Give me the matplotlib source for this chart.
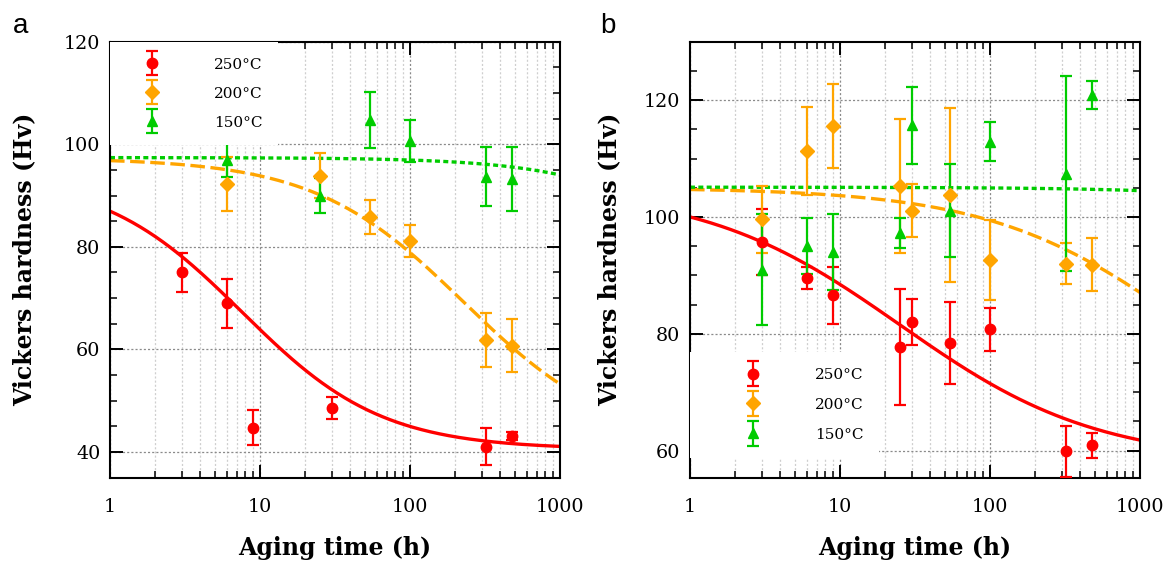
import numpy as np
import matplotlib.pyplot as plt
from matplotlib.ticker import LogLocator, MultipleLocator, NullFormatter
from matplotlib.legend_handler import HandlerErrorbar
from matplotlib.container import ErrorbarContainer

plt.rcParams['font.family'] = 'DejaVu Serif'
plt.rcParams['lines.scale_dashes'] = False

labels = ['250°C', '200°C', '150°C']
colors = ['#ff0000', '#ffa500', '#00cc00']
markers = ['o', 'D', '^']
msizes = [7.5, 7.5, 7.5]
fit_styles = ['-', (0, (10.5, 4)), (0, (3.6, 2.4))]

# ---- panel a: measured hardness (Hv) vs aging time (h)
a_t_250 = [3, 6, 9, 30, 320, 480]
a_hv_250 = [75.0, 69.0, 44.7, 48.6, 41.0, 43.1]
a_err_250 = [3.8, 4.8, 3.4, 2.1, 3.6, 0.7]

a_t_200 = [6, 25, 54, 100, 320, 480]
a_hv_200 = [92.2, 93.9, 85.8, 81.1, 61.8, 60.7]
a_err_200 = [5.3, 4.3, 3.35, 3.15, 5.25, 5.2]

a_t_150 = [6, 25, 54, 100, 320, 480]
a_hv_150 = [97.0, 90.0, 104.8, 100.6, 93.7, 93.2]
a_err_150 = [3.4, 3.5, 5.45, 4.1, 5.7, 6.3]

# ---- panel b
b_t_250 = [3, 6, 9, 25, 30, 54, 100, 320, 480]
b_hv_250 = [95.7, 89.5, 86.6, 77.7, 82.0, 78.4, 80.8, 59.9, 60.9]
b_err_250 = [5.6, 1.85, 4.9, 9.9, 3.9, 7.05, 3.7, 4.4, 2.2]

b_t_200 = [3, 6, 9, 25, 30, 54, 100, 320, 480]
b_hv_200 = [99.6, 111.3, 115.6, 105.3, 101.1, 103.8, 92.6, 92.0, 91.8]
b_err_200 = [5.7, 7.55, 7.15, 11.55, 4.55, 14.9, 6.8, 3.5, 4.55]

b_t_150 = [3, 6, 9, 25, 30, 54, 100, 320, 480]
b_hv_150 = [91.0, 95.0, 94.0, 97.3, 115.7, 101.1, 112.9, 107.4, 120.9]
b_err_150 = [9.55, 4.85, 6.55, 2.55, 6.6, 8.0, 3.3, 16.65, 2.45]

# fitted curves: Hv = H_inf + (H0 - H_inf) / (1 + (t/tau)^n)
# (H0, H_inf, tau, n)
a_fit = [(94.0, 40.5, 7.6, 0.93), (97.3, 41.0, 229.0, 0.87), (97.4, 41.0, 23600.0, 0.87)]
b_fit = [(105.0, 58.0, 25.2, 0.66), (105.0, 58.0, 2080.0, 0.66), (105.1, 58.0, 7.3e5, 0.66)]


def hardness_fit(t, h0, h_inf, tau, n):
    return h_inf + (h0 - h_inf) / (1 + (t / tau) ** n)


fig = plt.figure(figsize=(11.71, 5.67), dpi=100)
ax_a = fig.add_axes([110 / 1171, 89.5 / 567, 450 / 1171, 435.8 / 567])
ax_b = fig.add_axes([690 / 1171, 89.5 / 567, 450 / 1171, 435.8 / 567])

panels = [
    (ax_a, [(a_t_250, a_hv_250, a_err_250), (a_t_200, a_hv_200, a_err_200), (a_t_150, a_hv_150, a_err_150)],
     a_fit, (35, 120), [40, 60, 80, 100, 120], (0, 1), 3.37, 2.38, 0.98, 20),
    (ax_b, [(b_t_250, b_hv_250, b_err_250), (b_t_200, b_hv_200, b_err_200), (b_t_150, b_hv_150, b_err_150)],
     b_fit, (55.4, 130), [60, 80, 100, 120], (0, 0.288), 6.12, 1.01, 1.04, 16),
]

t_fit = np.logspace(0, 3, 300)

for ax, series, fits, ylim, yticks, lanchor, hlen, htpad, lspace, ylpad in panels:
    ax.set_xscale('log')
    for (h0, hinf, tau, n), c, ls in zip(fits, colors, fit_styles):
        ax.plot(t_fit, hardness_fit(t_fit, h0, hinf, tau, n), color=c, lw=2.4, ls=ls, zorder=2)
    handles = []
    for (t, hv, err), c, m, ms in zip(series, colors, markers, msizes):
        h = ax.errorbar(t, hv, yerr=err, fmt=m, color=c, ms=ms, elinewidth=1.6,
                        capsize=4, capthick=1.6, zorder=3)
        handles.append(h)

    ax.set_xlim(1, 1000)
    ax.set_ylim(*ylim)
    ax.set_xticks([1, 10, 100, 1000], ['1', '10', '100', '1000'])
    ax.xaxis.set_minor_locator(LogLocator(base=10, subs=np.arange(2, 10)))
    ax.xaxis.set_minor_formatter(NullFormatter())
    ax.set_yticks(yticks)
    ax.yaxis.set_minor_locator(MultipleLocator(5))

    ax.grid(which='major', axis='both', ls=(0, (1.5, 1.5)), color='#8a8a8a', lw=0.9)
    ax.grid(which='minor', axis='x', ls=(0, (1.5, 1.5)), color='#cfcfcf', lw=0.9)
    ax.set_axisbelow(True)

    ax.tick_params(which='both', direction='in', top=True, right=True)
    ax.tick_params(which='major', length=9.5, width=1.4, labelsize=13.8)
    ax.tick_params(which='minor', length=5, width=1.1)
    ax.tick_params(axis='x', which='major', pad=15)
    ax.tick_params(axis='y', which='major', pad=7)
    for sp in ax.spines.values():
        sp.set_linewidth(1.5)

    ax.set_xlabel('Aging time (h)', fontsize=17, fontweight='bold', labelpad=14)
    ax.set_ylabel('Vickers hardness (Hv)', fontsize=17, fontweight='bold', labelpad=ylpad)

    ax.legend(handles, labels, loc='upper left', bbox_to_anchor=lanchor, borderaxespad=0,
              fontsize=11, frameon=True, fancybox=False, framealpha=1,
              facecolor='white', edgecolor='none', borderpad=1.04,
              handlelength=hlen, handletextpad=htpad, labelspacing=lspace, numpoints=1,
              handler_map={ErrorbarContainer: HandlerErrorbar(yerr_size=0.8)})

fig.text(13 / 1171, 1 - 33 / 567, 'a', fontsize=20, family='Liberation Sans')
fig.text(600 / 1171, 1 - 33 / 567, 'b', fontsize=20, family='Liberation Sans')

fig.savefig('out.png', dpi=100)
